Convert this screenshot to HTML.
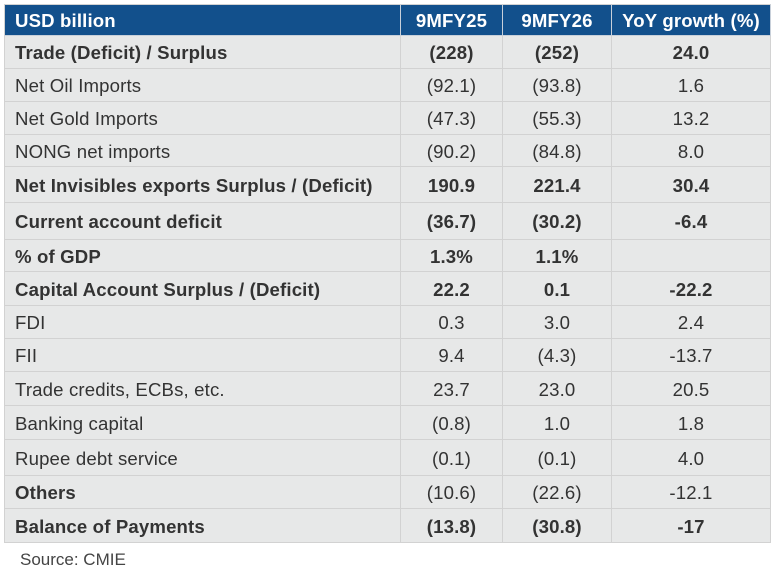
<!DOCTYPE html>
<html><head><meta charset="utf-8"><style>
html,body{margin:0;padding:0;background:#fff;width:776px;height:576px;overflow:hidden;font-family:"Liberation Sans",Arial,sans-serif;}
.c{position:absolute;box-sizing:border-box;display:flex;align-items:center;font-size:18.6px;color:#333;background:#e7e8e8;border-right:1.5px solid #d2d2d2;border-bottom:1.5px solid #d2d2d2;padding-top:2px;letter-spacing:0.15px;}
.h{background:#12508c;color:#fff;font-weight:bold;border-color:#c8d0da;}
.l{padding-left:10px;}
.n{justify-content:center;}
.b{font-weight:bold;}
.src{position:absolute;left:20px;top:550px;font-size:17px;color:#444;}
</style></head><body>
<div id="t"></div>
<div class="src">Source: CMIE</div>
<script>
const cols=[4,401,503,612,771];
const rows=[4,36,69,102,135,167,203,240,272,306,339,372,406,440,476,509,543];
const data=[
["USD billion","9MFY25","9MFY26","YoY growth (%)",2],
["Trade (Deficit) / Surplus","(228)","(252)","24.0",1],
["Net Oil Imports","(92.1)","(93.8)","1.6",0],
["Net Gold Imports","(47.3)","(55.3)","13.2",0],
["NONG net imports","(90.2)","(84.8)","8.0",0],
["Net Invisibles exports Surplus / (Deficit)","190.9","221.4","30.4",1],
["Current account deficit","(36.7)","(30.2)","-6.4",1],
["% of GDP","1.3%","1.1%","",1],
["Capital Account Surplus / (Deficit)","22.2","0.1","-22.2",1],
["FDI","0.3","3.0","2.4",0],
["FII","9.4","(4.3)","-13.7",0],
["Trade credits, ECBs, etc.","23.7","23.0","20.5",0],
["Banking capital","(0.8)","1.0","1.8",0],
["Rupee debt service","(0.1)","(0.1)","4.0",0],
["Others","(10.6)","(22.6)","-12.1",3],
["Balance of Payments","(13.8)","(30.8)","-17",1]
];
let h="";
data.forEach((r,i)=>{
 for(let j=0;j<4;j++){
  let cls="c "+(j==0?"l":"n");
  if(r[4]==2)cls+=" h";
  if(r[4]==1||(r[4]==3&&j==0))cls+=" b";
  let st=`left:${cols[j]}px;top:${rows[i]}px;width:${cols[j+1]-cols[j]}px;height:${rows[i+1]-rows[i]}px;`;
  if(j==0)st+="border-left:1.5px solid #d2d2d2;";
  if(i==0)st+="border-top:1.5px solid #d2d2d2;";
  h+=`<div class="${cls}" style="${st}">${r[j]}</div>`;
 }
});
document.getElementById("t").innerHTML=h;
</script>
</body></html>
